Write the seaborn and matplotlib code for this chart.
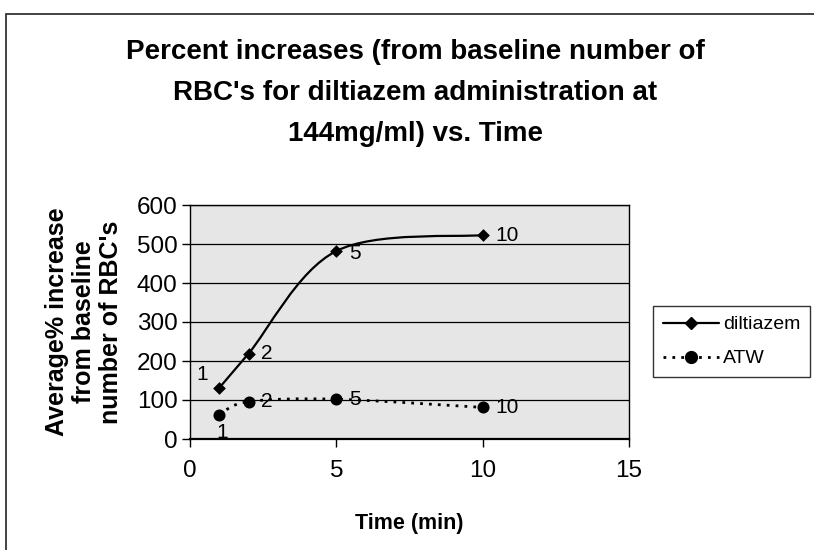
import numpy as np
import pandas as pd
import seaborn as sns
import matplotlib
matplotlib.use("Agg")
import matplotlib.pyplot as plt
from matplotlib.path import Path
from matplotlib.patches import PathPatch, Rectangle
from matplotlib.lines import Line2D

# ---- data ----
times = [1, 2, 5, 10]
diltiazem = [131, 219, 482, 523]
atw = [62, 96, 102, 81]
point_labels = ["1", "2", "5", "10"]
series_names = ["diltiazem", "ATW"]
x_ticks = [0, 5, 10, 15]
y_ticks = [0, 100, 200, 300, 400, 500, 600]

title = "Percent increases (from baseline number of\nRBC's for diltiazem administration at\n144mg/ml) vs. Time"
ylabel = "Average% increase\nfrom baseline\nnumber of RBC's"
xlabel = "Time (min)"

sns.set_theme(style="white")
plt.rcParams["font.family"] = ["Liberation Sans", "DejaVu Sans"]
plt.rcParams["text.color"] = "black"
plt.rcParams["axes.labelcolor"] = "black"
plt.rcParams["xtick.color"] = "black"
plt.rcParams["ytick.color"] = "black"

W, H = 814, 550
fig = plt.figure(figsize=(W / 100, H / 100), dpi=100)
ax = fig.add_axes([190 / W, 1 - 439 / H, (629 - 190) / W, (439 - 205) / H])
ax.set_facecolor("#e6e6e6")

df_d = pd.DataFrame({"t": times, "v": diltiazem})
df_a = pd.DataFrame({"t": times, "v": atw})


def smooth_path(xs, ys):
    """Excel-style smoothed line through the data points (Bezier segments)."""
    P = np.column_stack([xs, ys]).astype(float)
    n = len(P)
    verts = [P[0]]
    codes = [Path.MOVETO]
    for i in range(n - 1):
        p_prev = P[i - 1] if i > 0 else P[i]
        p_next2 = P[i + 2] if i + 2 < n else P[i + 1]
        c1 = P[i] + (P[i + 1] - p_prev) / 6.0
        c2 = P[i + 1] - (p_next2 - P[i]) / 6.0
        verts += [c1, c2, P[i + 1]]
        codes += [Path.CURVE4] * 3
    return Path(verts, codes)


ax.add_patch(PathPatch(smooth_path(times, diltiazem), fill=False, edgecolor="black",
                       lw=1.6, zorder=3))
ax.add_patch(PathPatch(smooth_path(times, atw), fill=False, edgecolor="black",
                       lw=2.0, linestyle=(0, (1, 2.2)), zorder=3))

sns.scatterplot(data=df_d, x="t", y="v", marker="D", color="black", s=42,
                linewidth=0, ax=ax, legend=False, zorder=4)
sns.scatterplot(data=df_a, x="t", y="v", marker="o", color="black", s=75,
                linewidth=0, ax=ax, legend=False, zorder=4)

# data labels
lab_fs = 15
for t, v, lab in zip(times, diltiazem, point_labels):
    if lab == "1":
        ax.annotate(lab, (t, v), xytext=(-8, 10), textcoords="offset points",
                    ha="right", va="center", fontsize=lab_fs)
    elif lab == "5":
        ax.annotate(lab, (t, v), xytext=(9, -2), textcoords="offset points",
                    ha="left", va="center", fontsize=lab_fs)
    else:
        ax.annotate(lab, (t, v), xytext=(9, 0), textcoords="offset points",
                    ha="left", va="center", fontsize=lab_fs)
for t, v, lab in zip(times, atw, point_labels):
    if lab == "1":
        ax.annotate(lab, (t, v), xytext=(2, -13), textcoords="offset points",
                    ha="center", va="center", fontsize=lab_fs)
    else:
        ax.annotate(lab, (t, v), xytext=(9, 0), textcoords="offset points",
                    ha="left", va="center", fontsize=lab_fs)

ax.set_xlim(0, 15)
ax.set_ylim(0, 600)
ax.set_xticks(x_ticks)
ax.set_yticks(y_ticks)
ax.set_xticklabels([str(v) for v in x_ticks], fontsize=17.5)
ax.set_yticklabels([str(v) for v in y_ticks], fontsize=17.5)
ax.tick_params(axis="both", direction="out", length=6, width=1, color="black",
               labelcolor="black")
ax.tick_params(axis="x", pad=9, bottom=True)
ax.tick_params(axis="y", pad=3, left=True)
ax.yaxis.grid(True, color="black", lw=0.9)
ax.set_axisbelow(True)
for sp in ax.spines.values():
    sp.set_color("black")
    sp.set_linewidth(1.0)
ax.spines["bottom"].set_linewidth(1.6)

ax.set_xlabel(xlabel, fontsize=15.5, fontweight="bold", color="black")
ax.xaxis.set_label_coords(0.5, -0.315)
ax.set_ylabel(ylabel, fontsize=18, fontweight="bold", color="black",
              linespacing=1.15, va="center", multialignment="center")
ax.yaxis.set_label_coords(-0.242, 0.5)

fig.text(415 / W, 1 - 39 / H, title, ha="center", va="top", fontsize=20,
         fontweight="bold", linespacing=1.75, multialignment="center",
         color="black")

handles = [Line2D([], [], color="black", lw=1.6, marker="D", markersize=6.5),
           Line2D([], [], color="black", lw=2.0, linestyle=(0, (1, 2.2)),
                  marker="o", markersize=8.5)]
leg = ax.legend(handles, series_names, loc="upper left",
                bbox_to_anchor=((653 - 190) / 439, (439 - 306) / 234),
                borderaxespad=0, frameon=True, fancybox=False, fontsize=14,
                handlelength=2.9, handletextpad=0.2, borderpad=0.5,
                labelspacing=0.85)
leg.get_frame().set_edgecolor("black")
leg.get_frame().set_linewidth(1.0)
for txt in leg.get_texts():
    txt.set_color("black")

# chart border (left and top edges visible)
fig.add_artist(Rectangle((6 / W, -0.05), 1.5, 1.05 - 14 / H, transform=fig.transFigure,
                         fill=False, edgecolor="#222222", lw=1.2))

fig.savefig("out.png", dpi=100)
